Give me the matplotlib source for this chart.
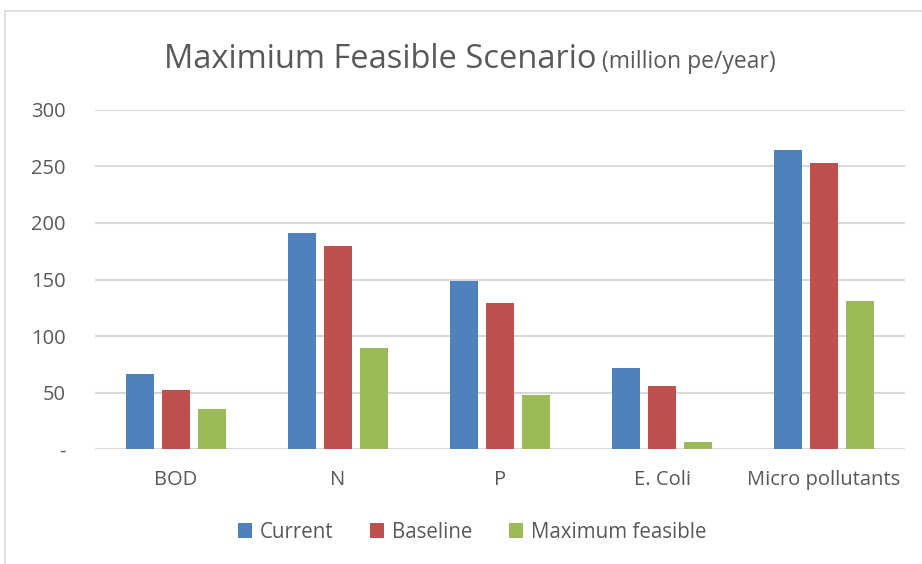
import numpy as np
import matplotlib.pyplot as plt
from matplotlib.patches import Rectangle

categories = ['BOD', 'N', 'P', 'E. Coli', 'Micro pollutants']
current = [66, 191, 149, 72, 265]
baseline = [52, 180, 129, 56, 253]
max_feasible = [35, 89, 48, 6, 131]
series_names = ['Current', 'Baseline', 'Maximum feasible']
colors = ['#4F81BD', '#C0504D', '#9BBB59']
yticks = [0, 50, 100, 150, 200, 250, 300]
ytick_labels = ['-', '50', '100', '150', '200', '250', '300']

plt.rcParams['font.family'] = ['Open Sans', 'DejaVu Sans']
txt = '#595959'
W, H = 922, 564

fig = plt.figure(figsize=(W / 100, H / 100), dpi=100)
ax = fig.add_axes([95 / W, 1 - 449 / H, (905 - 95) / W, (449 - 110) / H])

x = np.arange(len(categories))
bw = 0.172
step = 0.222
for i, (vals, name) in enumerate(zip([current, baseline, max_feasible], series_names)):
    ax.bar(x + (i - 1) * step, vals, width=bw, color=colors[i], label=name, zorder=3)

ax.set_xlim(-0.5, len(categories) - 0.5)
ax.set_ylim(0, 300)
ax.set_yticks(yticks)
ax.set_yticklabels(ytick_labels)
ax.set_xticks(x)
ax.set_xticklabels(categories)
ax.grid(axis='y', color='#d9d9d9', lw=1.5, zorder=0)
ax.set_axisbelow(True)
for s in ax.spines.values():
    s.set_visible(False)
ax.tick_params(axis='both', length=0, labelsize=14.5, labelcolor=txt)
ax.tick_params(axis='y', pad=21)
ax.tick_params(axis='x', pad=15)

# outer chart border
fig.patches.append(Rectangle((5 / W, -0.1), 1.1, 1 - 11 / H + 0.1, transform=fig.transFigure,
                             fill=False, edgecolor='#d9d9d9', lw=1.2, clip_on=False))

# title in two sizes
t1 = fig.text(0, 1 - 68 / H, 'Maximium Feasible Scenario', fontsize=23.5, color=txt,
              ha='left', va='baseline')
t2 = fig.text(0, 1 - 68 / H, ' (million pe/year)', fontsize=16.5, color=txt,
              ha='left', va='baseline')
fig.canvas.draw()
r = fig.canvas.get_renderer()
w1 = t1.get_window_extent(r).width
w2 = t2.get_window_extent(r).width
x0 = 470 - (w1 + w2) / 2
t1.set_x(x0 / W)
t2.set_x((x0 + w1) / W)

fig.legend(loc='center', bbox_to_anchor=(472 / W, 1 - 532 / H), ncol=3, frameon=False,
           fontsize=14.8, labelcolor=txt, handlelength=0.7, handleheight=0.7,
           handletextpad=0.35, columnspacing=1.8)

fig.savefig('out.png', dpi=100)
